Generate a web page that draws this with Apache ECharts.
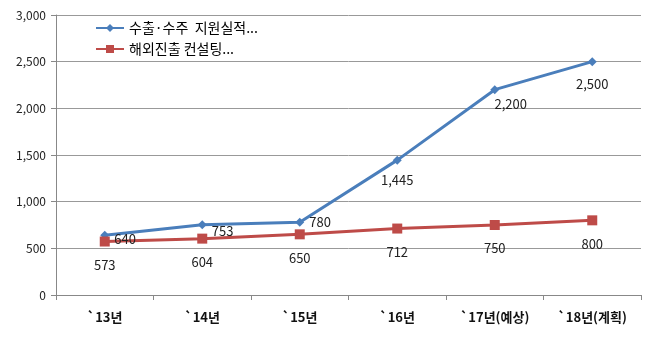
<!DOCTYPE html>
<html><head><meta charset="utf-8">
<script src="https://cdn.jsdelivr.net/npm/echarts@6/dist/echarts.min.js"></script>
<style>html,body{margin:0;padding:0;background:#fff}#c{width:652px;height:350px}</style>
</head><body><div id="c"></div>
<script>
const categories = ['`13년', '`14년', '`15년', '`16년', '`17년(예상)', '`18년(계획)'];
const seriesNames = ['수출·수주  지원실적...', '해외진출 컨설팅...'];
const exportValues = [640, 753, 780, 1445, 2200, 2500];
const consultValues = [573, 604, 650, 712, 750, 800];
const yTicks = { min: 0, max: 3000, interval: 500 };

const font = '"Noto Sans CJK KR", "Noto Sans", sans-serif';
const bluePos = ['right', 'right', 'right', 'bottom', 'bottom', 'bottom'];
const blueOff = [[0, 4], [0, 6], [0, 0], [0, 4], [16, -2], [0, 6]];

const chart = echarts.init(document.getElementById('c'));
chart.setOption({
  animation: false,
  textStyle: { fontFamily: font },
  grid: { left: 56, right: 11, top: 15, bottom: 55 },
  legend: {
    orient: 'vertical', left: 90, top: 16, itemGap: 7,
    itemWidth: 28, itemHeight: 10,
    textStyle: { fontSize: 14, color: '#000', fontFamily: font },
    data: seriesNames
  },
  xAxis: {
    type: 'category', data: categories, boundaryGap: true,
    axisLine: { lineStyle: { color: '#888' } },
    axisTick: { show: true, length: 5, lineStyle: { color: '#888' } },
    axisLabel: { margin: 16, fontSize: 13, fontWeight: 'bold', color: '#111', fontFamily: font }
  },
  yAxis: {
    type: 'value', min: yTicks.min, max: yTicks.max, interval: yTicks.interval,
    axisLine: { show: true, lineStyle: { color: '#888' } },
    axisTick: { show: true, length: 5, lineStyle: { color: '#888' } },
    axisLabel: { margin: 10, fontSize: 12, color: '#222', fontFamily: font,
      formatter: v => v.toLocaleString('en-US') },
    splitLine: { lineStyle: { color: '#999' } }
  },
  series: [
    {
      name: seriesNames[0], type: 'line', data: exportValues.map((v, i) => ({
        value: v, label: { position: bluePos[i], offset: blueOff[i] }
      })),
      color: '#4A7EBB', lineStyle: { width: 3 }, symbol: 'diamond', symbolSize: 9,
      label: { show: true, fontSize: 13, color: '#222', formatter: p => p.value.toLocaleString('en-US'), fontFamily: font }
    },
    {
      name: seriesNames[1], type: 'line', data: consultValues,
      color: '#BE4B48', lineStyle: { width: 3 }, symbol: 'rect', symbolSize: 10,
      label: { show: true, position: 'bottom', distance: 12, fontSize: 13, color: '#222', fontFamily: font }
    }
  ]
});
</script></body></html>
